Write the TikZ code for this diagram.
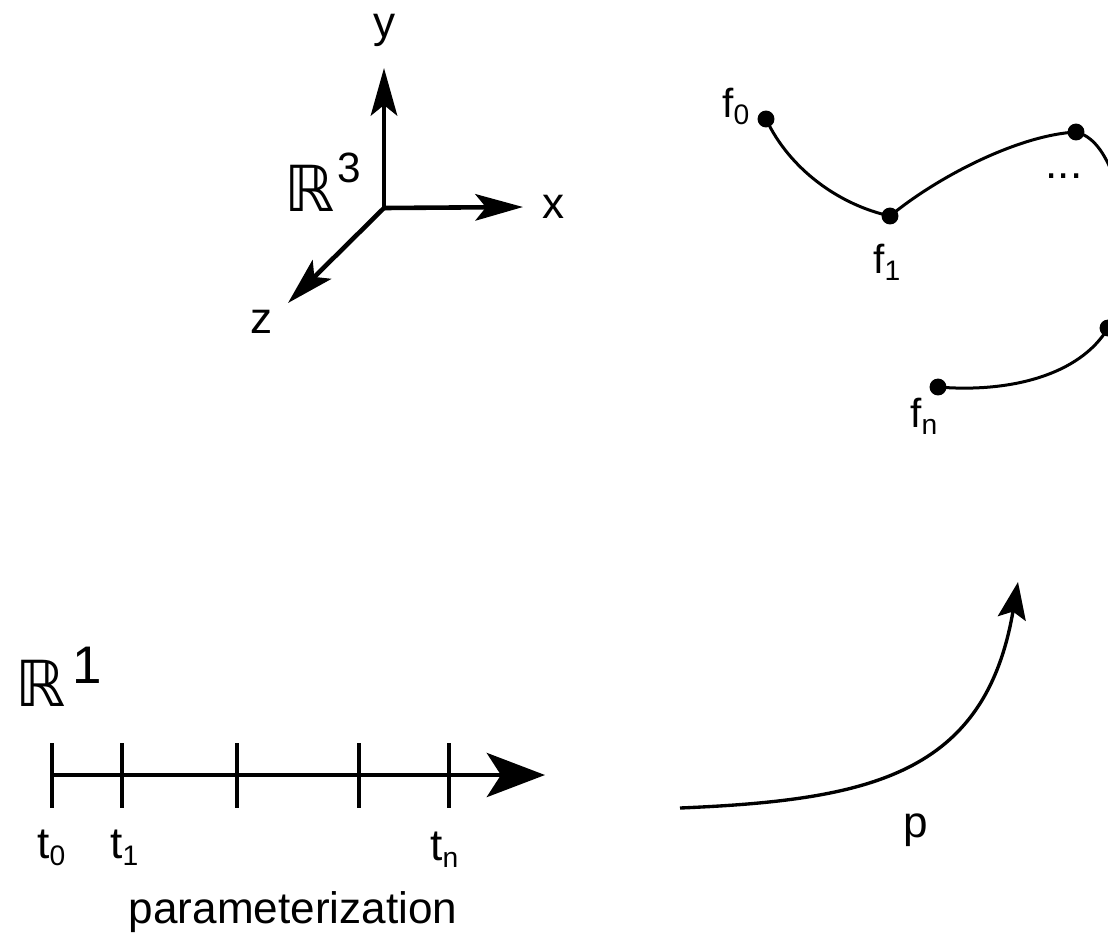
\documentclass[tikz,border=0pt]{standalone}
\usepackage{fontspec}
\setmainfont{Liberation Sans}
\newfontfamily\dejavu{DejaVu Sans}
\usetikzlibrary{arrows.meta}
\newcommand\lsub[1]{\raisebox{-4.5pt}{\fontsize{16}{16}\selectfont #1}}
\newcommand\bbR{{\dejavu ℝ}}
\begin{document}
\begin{tikzpicture}[x=0.567pt,y=-0.567pt,
  lbl/.style={inner sep=0pt, font=\fontsize{25}{30}\selectfont},
  flbl/.style={inner sep=0pt, font=\fontsize{23}{28}\selectfont},
  bbl/.style={inner sep=0pt, font=\fontsize{36}{40}\selectfont},
  axis/.style={line width=2.6pt},
  smallhead/.style={-{Stealth[length=27pt,width=15pt,inset=6pt]}},
  pt/.style={circle, fill=black, inner sep=0pt, minimum size=9.6pt},
  crv/.style={line width=1.7pt},
  tickmark/.style={line width=2pt}]
\useasboundingbox (0,0) rectangle (1108,935);
\clip (0,0) rectangle (1108,935);

% R^3 axes
\coordinate (O) at (384,208);
\coordinate (Y) at (384,68);
\coordinate (X) at (523,207);
\coordinate (Z) at (288,303);
\draw[axis,smallhead] (O) -- (Y);
\draw[axis,smallhead] (O) -- (X);
\draw[axis,smallhead] (O) -- (Z);
\node[lbl, anchor=base] (ly) at (385,37) {y};
\node[lbl, anchor=base] (lx) at (554,218) {x};
\node[lbl, anchor=base] (lz) at (262,333) {z};
\node[bbl, anchor=base west] (R3) at (284,211) {\bbR};
\node[inner sep=0pt, anchor=base west, font=\fontsize{24}{28}\selectfont] (R3e) at (337,182) {3};

% R^1 axis
\node[bbl, anchor=base west] (R1) at (15,706) {\bbR};
\node[inner sep=0pt, anchor=base west, font=\fontsize{30}{34}\selectfont] (R1e) at (72,683) {1};
\coordinate (A0) at (52,775);
\coordinate (A1) at (545,775);
\draw[axis, -{Stealth[length=33pt,width=25pt,inset=8pt]}] (A0) -- (A1);
\foreach \x in {52,122,237,359,449} \draw[tickmark] (\x,743) -- (\x,808);
\node[lbl, anchor=base west] (t0) at (37,858) {t\lsub{0}};
\node[lbl, anchor=base west] (t1) at (110,858) {t\lsub{1}};
\node[lbl, anchor=base west] (tn) at (430,860) {t\lsub{n}};
\node[lbl, anchor=base] (param) at (293,923) {parameterization};

% p arrow
\coordinate (ps) at (680,808);
\coordinate (pe) at (1018,582);
\draw[line width=1.9pt, -{Stealth[length=21pt,width=16pt,inset=4pt]}] (ps) .. controls (870,800) and (985,775) .. (pe);
\node[lbl, anchor=base] (p) at (916,837) {p};

% curve in R^3
\node[pt] (d0) at (766,119) {};
\node[pt] (d1) at (890,216) {};
\node[pt] (d2) at (1076,132) {};
\node[pt] (d3) at (1108,328) {};
\node[pt] (dn) at (938,387) {};
\coordinate (off2) at (1115,180);
\draw[crv] (d0.center) .. controls (790,170) and (840,205) .. (d1.center)
  .. controls (940,175) and (1020,135) .. (d2.center)
  .. controls (1092,136) and (1104,150) .. (off2);
\draw[crv] (d3.center) .. controls (1080,375) and (1010,393) .. (dn.center);
\node[flbl, anchor=base west] (f0) at (722,117) {f\lsub{0}};
\node[flbl, anchor=base west] (f1) at (873,273) {f\lsub{1}};
\node[flbl, anchor=base west] (fn) at (910,427) {f\lsub{n}};
\node[lbl, anchor=base] (dots) at (1064,178) {...};
\end{tikzpicture}
\end{document}
